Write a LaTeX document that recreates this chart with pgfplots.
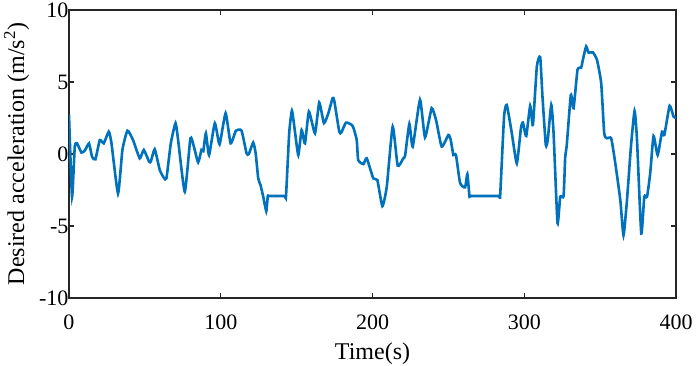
\documentclass[border=0pt]{standalone}
\usepackage{fontspec}
\setmainfont{Liberation Serif}
\usepackage{pgfplots}
\pgfplotsset{compat=1.18}
\definecolor{mblue}{RGB}{0,114,189}
\begin{document}
\begin{tikzpicture}
\begin{axis}[
  scale only axis,
  width=607pt, height=288pt,
  xmin=0, xmax=400, ymin=-10, ymax=10,
  xtick={0,100,200,300,400},
  xticklabels={0,100,200,300,400},
  ytick={-10,-5,0,5,10},
  yticklabels={-10,-5,0,5,10},
  xtick pos=both, ytick pos=both,
  tick align=inside,
  major tick length=5pt,
  axis line style={line width=1.2pt, color=black!85},
  tick style={line width=1.2pt, color=black!85},
  tick label style={font=\fontsize{22}{26}\selectfont},
  label style={font=\fontsize{24}{28}\selectfont},
  xticklabel style={yshift=-13pt},
  yticklabel style={xshift=3pt},
  xlabel={Time(s)},
  ylabel={Desired acceleration (m/s\textsuperscript{2})},
  xlabel style={yshift=-7pt},
  ylabel style={yshift=3pt},
  clip=true,
]
\addplot[mblue, line width=2.6pt, smooth, tension=0.3] coordinates {
(0,2.7) (2,-2.97) (3.8,0.5) (5.3,0.74) (8.2,0.1) (10.5,0.25) (13.2,0.74) (15.2,-0.19) (17.4,-0.37)
(20.3,0.97) (22.9,0.74) (26.2,1.55) (28,0.74) (32.3,-2.74) (35.2,0.28) (38.5,1.62) (42.2,0.97)
(46.6,-0.3) (49.3,0.28) (52.8,-0.54) (54,-0.5) (56.5,0.33) (59.8,-1.11) (62.5,-1.65) (64.2,-1.69)
(67.1,0.74) (70.2,2.14) (71.9,0.97) (76.3,-2.62) (80,1.09) (82.3,0.51) (85.1,-0.58) (87.3,0.28)
(88.5,0.2) (90.2,1.44) (92.3,-0.07) (96.1,2.14) (99.2,0.68) (103.2,2.83) (106.5,0.74) (110,1.62)
(113.7,1.62) (117,0.05) (118.5,0.0) (121.4,0.79) (123,0.05) (124.7,-1.69) (126.2,-2.16) (128,-2.97)
(130,-3.97) (131,-2.92) (132,-2.92) (142,-2.92) (143,-2.92) (145.1,1.44) (146.9,3.01) (148.9,1.55) (151.1,-0.07) (153.3,1.67)
(155.5,0.74) (158.1,2.94) (162.1,1.44) (164.9,3.57) (168,2.14) (170.9,2.83) (173.7,3.88) (174.8,3.7)
(178.1,1.55) (179.5,1.5) (182.5,2.18) (186.3,2.02) (187.5,1.8) (189.6,0.97) (190.6,-0.42) (194,-0.7)
(196.2,-0.3) (200.5,-1.69) (203.2,-1.81) (206.5,-3.62) (209.4,-2.27) (213.3,1.9) (216.6,-0.81)
(220.3,-0.3) (221.5,-0.1) (224.3,2.09) (226.5,0.51) (231.3,3.76) (234.6,1.16) (239,3.18) (242,2.3)
(245.6,0.51) (250,1.32) (251.5,1.0) (253.3,-0.07) (255,-0.07) (257.7,-2.0) (261,-2.32) (262.5,-1.39)
(263.9,-2.92) (265,-2.92) (283,-2.92) (284.1,-2.92) (286.7,2.6) (288.5,3.41) (291.8,1.44) (295.1,-0.65) (297.8,1.79)
(299.1,2.18) (301.3,1.25) (303.9,3.34) (305.7,2.02) (308.3,6.08) (310.5,6.73) (312,4.0) (314.2,0.63)
(315.5,1.0) (317.8,3.41) (319.3,1.5) (321.9,-4.78) (323.7,-2.97) (325.9,-2.92) (327,-0.19) (328,0.6)
(330.7,4.1) (332.5,3.18) (335.1,5.85) (337.5,6.0) (339.1,6.77) (340.8,7.47) (342.4,7.05) (345.3,7.05)
(347.9,6.54) (350.7,4.92) (352.7,1.44) (354.5,1.09) (357.3,1.09) (360,-0.65) (363.3,-3.2)
(365.4,-5.64) (367.7,-3.2) (370.3,0.51) (372.7,2.99) (374.3,0.97) (377.1,-5.52) (379.1,-2.97)
(380.9,-2.97) (383,-1.34) (385.2,1.25) (387.9,-0.07) (390.8,1.55) (392.3,1.32) (395.8,3.34)
(398.4,2.6) (400,2.5)
};
\coordinate (sw) at (rel axis cs:0,0);
\coordinate (ne) at (rel axis cs:1,1);
\end{axis}
\pgfresetboundingbox
\path ([shift={(-69pt,-68pt)}]sw) rectangle ([shift={(24pt,10pt)}]ne);
\end{tikzpicture}
\end{document}
